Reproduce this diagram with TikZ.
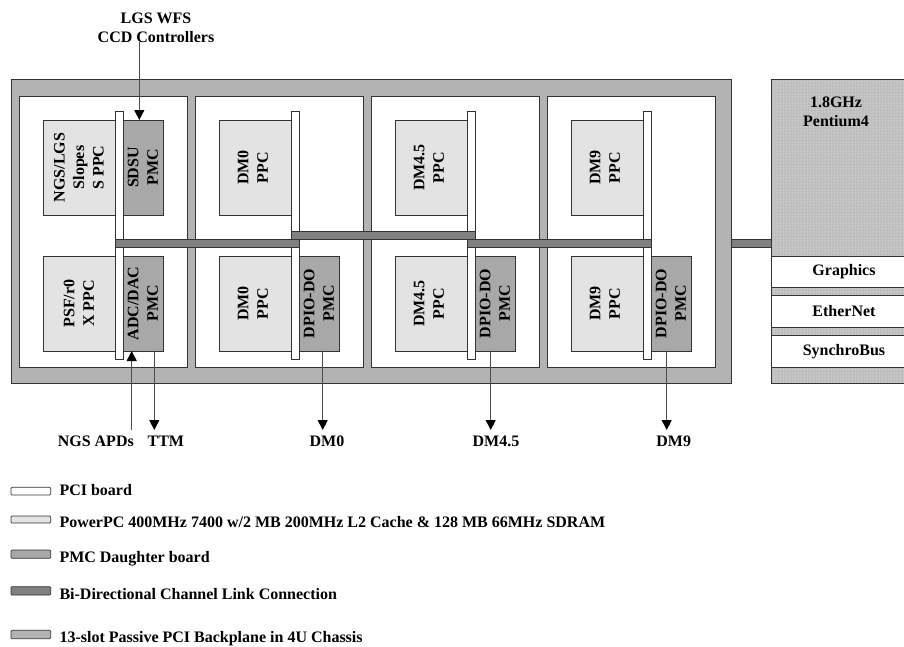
\documentclass[tikz,border=0pt]{standalone}
\usepackage{fontspec}
\setmainfont{Liberation Serif}
\usetikzlibrary{arrows.meta,patterns,calc}
\definecolor{chasc}{HTML}{B3B3B3}
\definecolor{ppcc}{HTML}{E3E3E3}
\definecolor{pmcc}{HTML}{A8A8A8}
\definecolor{linkc}{HTML}{808080}
\definecolor{lc}{HTML}{333333}
\definecolor{pentc}{HTML}{BDBDBD}
\newcommand\boxat[6]{%
  \pgfmathsetmacro\myW{(#5)-(#3)}%
  \pgfmathsetmacro\myH{(#6)-(#4)}%
  \node[#2, minimum width=\myW pt, minimum height=\myH pt, anchor=north west,
        inner sep=0pt, outer sep=0pt] (#1) at (#3,#4) {};}
\begin{document}
\begin{tikzpicture}[x=1pt,y=-1pt,
  font=\bfseries\fontsize{16}{19.5}\selectfont,
  chassis/.style={draw=lc, fill=chasc, line width=0.9pt},
  board/.style={draw=lc, fill=white, line width=0.8pt},
  pci/.style={draw=lc, fill=white, line width=0.7pt},
  ppc/.style={draw=lc, fill=ppcc, line width=0.7pt},
  pmc/.style={draw=lc, fill=pmcc, line width=0.7pt},
  link/.style={draw=lc, fill=linkc, line width=0.7pt},
  wbox/.style={draw=lc, fill=white, line width=0.8pt},
  arr/.style={draw=black!70, line width=0.9pt, -{Triangle[width=10pt,length=10pt,color=black]}},
  lbl/.style={align=center, inner sep=0pt},
  rlbl/.style={rotate=90, align=center, inner sep=0pt},
  leg/.style={draw=lc, line width=0.7pt, rounded corners=1pt},
  legt/.style={anchor=base west, inner sep=0pt}]
\useasboundingbox (0,0) rectangle (904,646);

% chassis
\boxat{chassis}{chassis}{11}{79.3}{731}{383.3}

% boards
\foreach \i in {1,...,4}{
  \pgfmathsetmacro\L{19+176*(\i-1)}
  \boxat{board\i}{board}{\L}{96}{\L+168}{367}
  \boxat{ppcT\i}{ppc}{\L+24}{120}{\L+96}{215}
  \boxat{ppcB\i}{ppc}{\L+24}{256}{\L+96}{351}
  \boxat{pmcB\i}{pmc}{\L+104}{256}{\L+144}{351}
  \boxat{strip\i}{pci}{\L+96}{111.7}{\L+104}{359.3}
}
\boxat{sdsu}{pmc}{123}{120}{163}{215}

% texts in boards
\node[rlbl] (tT1) at (ppcT1) {NGS/LGS\\Slopes\\S PPC};
\node[rlbl] (tS1) at (sdsu) {SDSU\\PMC};
\node[rlbl] (tB1) at (ppcB1) {PSF/r0\\X PPC};
\node[rlbl] (tM1) at (pmcB1) {ADC/DAC\\PMC};
\node[rlbl] (tT2) at ($(ppcT2)+(-2,0)$) {DM0\\PPC};
\node[rlbl] (tB2) at ($(ppcB2)+(-2,0)$) {DM0\\PPC};
\node[rlbl] (tM2) at (pmcB2) {DPIO-DO\\PMC};
\node[rlbl] (tT3) at ($(ppcT3)+(-2,0)$) {DM4.5\\PPC};
\node[rlbl] (tB3) at ($(ppcB3)+(-2,0)$) {DM4.5\\PPC};
\node[rlbl] (tM3) at (pmcB3) {DPIO-DO\\PMC};
\node[rlbl] (tT4) at ($(ppcT4)+(-2,0)$) {DM9\\PPC};
\node[rlbl] (tB4) at ($(ppcB4)+(-2,0)$) {DM9\\PPC};
\node[rlbl] (tM4) at (pmcB4) {DPIO-DO\\PMC};

% channel links
\boxat{l1}{link}{115}{239.5}{299}{247.5}
\boxat{l2}{link}{291}{231.5}{475}{239.5}
\boxat{l3}{link}{467}{239.5}{651}{247.5}
\boxat{l4}{link}{731}{239.5}{771}{247.5}

% Pentium host
\begin{scope}
\clip (0,0) rectangle (904,646);
\fill[pentc] (771,79.3) rectangle (930,383.3);
\fill[pattern=dots, pattern color=white] (771,79.3) rectangle (930,383.3);
\node[draw=lc, line width=0.9pt, minimum width=159pt, minimum height=304pt, anchor=north west, inner sep=0pt] (pent) at (771,79.3) {};
\boxat{gfx}{wbox}{771}{256}{917}{287.3}
\boxat{eth}{wbox}{771}{295.7}{917}{327.3}
\boxat{syn}{wbox}{771}{335.7}{917}{367.3}
\end{scope}
\node[lbl] (pentt) at (836,112) {1.8GHz\\Pentium4};
\node[lbl] (gfxt) at (844,271.6) {Graphics};
\node[lbl] (etht) at (844,311.5) {EtherNet};
\node[lbl] (synt) at (844,351.5) {SynchroBus};

% external labels and arrows
\node[lbl] (lgs) at (156,28) {LGS WFS\\CCD Controllers};
\coordinate (lgsA) at (139.3,42);
\coordinate (lgsB) at (139.3,120);
\draw[arr] (lgsA) -- (lgsB);

\coordinate (ngsA) at (131.7,430);
\coordinate (ngsB) at (131.7,351);
\draw[arr] (ngsA) -- (ngsB);
\coordinate (ttmA) at (154.3,351);
\coordinate (ttmB) at (154.3,430);
\draw[arr] (ttmA) -- (ttmB);
\coordinate (dm0A) at (322.7,351);
\coordinate (dm0B) at (322.7,430);
\draw[arr] (dm0A) -- (dm0B);
\coordinate (dm45A) at (490.7,351);
\coordinate (dm45B) at (490.7,430);
\draw[arr] (dm45A) -- (dm45B);
\coordinate (dm9A) at (666.7,351);
\coordinate (dm9B) at (666.7,430);
\draw[arr] (dm9A) -- (dm9B);

\node[lbl] (ngst) at (95.8,441) {NGS APDs};
\node[lbl] (ttmt) at (165.8,441) {TTM};
\node[lbl] (dm0t) at (327,441) {DM0};
\node[lbl] (dm45t) at (496,441) {DM4.5};
\node[lbl] (dm9t) at (673.7,441) {DM9};

% legend
\boxat{lg1}{leg,fill=white}{11}{487.3}{50.7}{495}
\boxat{lg2}{leg,fill=ppcc}{11}{516}{50.7}{523}
\boxat{lg3}{leg,fill=pmcc}{11}{550}{50.7}{558.3}
\boxat{lg4}{leg,fill=linkc}{11}{586.7}{50.7}{595}
\boxat{lg5}{leg,fill=chasc}{11}{630.3}{50.7}{638.7}
\node[legt] (lt1) at (59.3,495) {PCI board};
\node[legt] (lt2) at (59.3,527.3) {PowerPC 400MHz 7400 w/2 MB 200MHz L2 Cache \& 128 MB 66MHz SDRAM};
\node[legt] (lt3) at (59.3,562.7) {PMC Daughter board};
\node[legt] (lt4) at (59.3,599.3) {Bi-Directional Channel Link Connection};
\node[legt] (lt5) at (59.3,642.7) {13-slot Passive PCI Backplane in 4U Chassis};
\end{tikzpicture}
\end{document}
